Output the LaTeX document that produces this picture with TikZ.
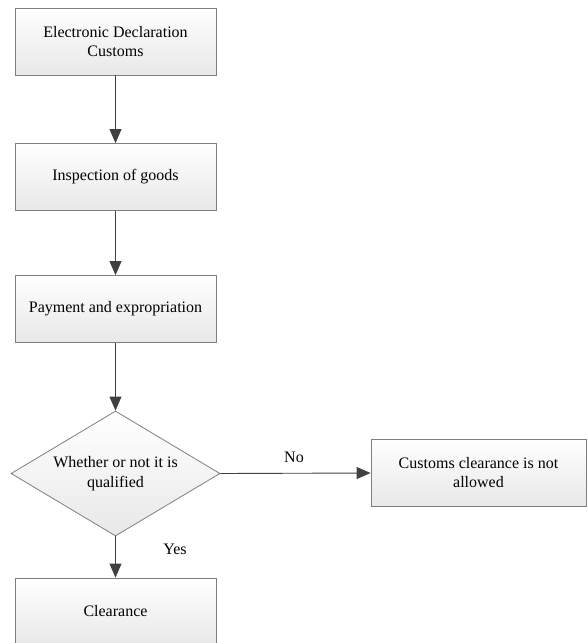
\documentclass[tikz,border=0pt]{standalone}
\usepackage{fontspec}
\setmainfont{Liberation Serif}
\usetikzlibrary{shapes.geometric,arrows.meta}
\definecolor{linec}{HTML}{404040}
\definecolor{borderc}{HTML}{7F7F7F}
\tikzset{
  procbox/.style={draw=borderc, line width=0.8pt, top color=white, bottom color=black!9,
    minimum width=201pt, minimum height=67pt, inner sep=0pt, align=center, font=\fontsize{16pt}{19pt}\selectfont},
  decbox/.style={diamond, draw=borderc, line width=0.8pt, top color=white, bottom color=black!9,
    minimum width=209pt, minimum height=125pt, inner sep=0pt, aspect=1.67, align=center, font=\fontsize{16pt}{20pt}\selectfont},
  flow/.style={draw=linec, line width=0.9pt, -{Triangle[length=14pt,width=12pt]}, color=linec},
  lbl/.style={font=\fontsize{16pt}{19pt}\selectfont, inner sep=0pt}
}
\begin{document}
\begin{tikzpicture}[x=1pt,y=-1pt]
\useasboundingbox (0,0) rectangle (587,643);
\clip (0,0) rectangle (587,643);
\node[procbox] (b1) at (115.5,41.5) {Electronic Declaration\\Customs};
\node[procbox] (b2) at (115.5,177) {Inspection of goods};
\node[procbox] (b3) at (115.5,309) {Payment and expropriation};
\node[decbox] (d) at (115.5,473.5) {Whether or not it is\\qualified};
\node[procbox, minimum width=215pt] (r) at (478.5,473) {Customs clearance is not\\allowed};
\node[procbox] (b4) at (115.5,611.5) {Clearance};
\draw[flow] (b1) -- (b2);
\draw[flow] (b2) -- (b3);
\draw[flow] (b3) -- (d);
\draw[flow] (d.east) -- (r.west);
\draw[flow] (d.south) -- (b4.north);
\node[lbl] (no) at (294,457) {No};
\node[lbl] (yes) at (175,549) {Yes};
\end{tikzpicture}
\end{document}
